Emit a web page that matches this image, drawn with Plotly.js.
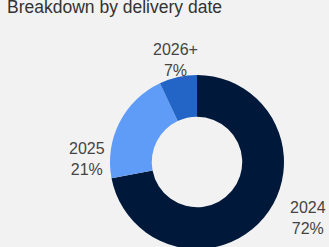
<!DOCTYPE html>
<html><head><meta charset="utf-8">
<script src="https://cdn.plot.ly/plotly-3.0.1.min.js"></script>
<style>html,body{margin:0;padding:0;background:#f2f2f2;overflow:hidden;width:329px;height:247px}</style>
</head><body><div id="chart"></div>
<script>
const categories = ['2024', '2025', '2026+'];
const shares = [72, 21, 7];
const sliceColors = ['#00183a', '#5f9cf7', '#2265c6'];
const chartTitle = 'Breakdown by delivery date';

// label placement (layout only, in pixels of the picture)
const labelPx = [[307.5, 218], [86.5, 159], [175.5, 59.7]];

const H = 252, W = 329;
const total = shares.reduce((a, b) => a + b, 0);
const annotations = categories.map((c, i) => ({
  text: c + '<br>' + Math.round(shares[i] / total * 100) + '%',
  xref: 'paper', yref: 'paper',
  x: labelPx[i][0] / W, y: 1 - labelPx[i][1] / H,
  xanchor: 'center', yanchor: 'middle', align: 'center', showarrow: false,
  font: {family: 'Liberation Sans, Arial, sans-serif', size: 16, color: '#444444'}
}));

Plotly.newPlot('chart', [{
  type: 'pie',
  labels: categories,
  values: shares,
  hole: 0.52,
  sort: false,
  direction: 'clockwise',
  rotation: 0,
  marker: {colors: sliceColors, line: {width: 0}},
  textposition: 'none',
  hoverinfo: 'none',
  domain: {x: [0.3343, 0.8632], y: [0, 0.7143]},
  automargin: false
}], {
  width: W, height: H,
  margin: {l: 0, r: 0, t: 0, b: 0},
  paper_bgcolor: '#f2f2f2', plot_bgcolor: '#f2f2f2',
  showlegend: false,
  annotations: annotations,
  title: {text: chartTitle, x: 7/W, xanchor: 'left', xref: 'container', yref: 'container', y: 1 - 12.5/H, yanchor: 'bottom',
    font: {family: 'Liberation Sans, Arial, sans-serif', size: 17.5, color: '#333333'}, pad: {t: 0, b: 0, l: 0, r: 0}}
}, {displayModeBar: false, staticPlot: true});
</script></body></html>
